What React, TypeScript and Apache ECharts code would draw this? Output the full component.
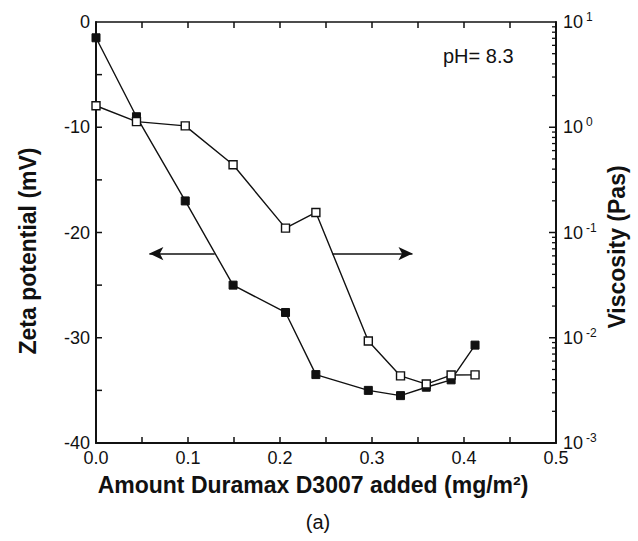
import React, { useEffect, useRef } from "react";
import * as echarts from "echarts";

// Amount of Duramax D3007 added (mg/m²)
const amounts = [0, 0.044, 0.097, 0.149, 0.206, 0.239, 0.296, 0.331, 0.359, 0.386, 0.412];
// Zeta potential (mV) — filled squares, left axis
const zeta = [-1.5, -9.0, -17.0, -25.0, -27.6, -33.5, -35.0, -35.5, -34.7, -34.0, -30.7];
// Viscosity (Pas) — open squares, right log axis
const viscosity = [1.6, 1.13, 1.03, 0.44, 0.11, 0.155, 0.0093, 0.00434, 0.00363, 0.00442, 0.00444];

const xTicks = { min: 0, max: 0.5, interval: 0.1 };
const zetaTicks = { min: -40, max: 0, interval: 10 };
const viscRange = { min: 0.001, max: 10 };

// arrow annotations (data units: [x, zeta])
const leftArrow = [[0.129, -22], [0.058, -22]];
const rightArrow = [[0.257, -22], [0.344, -22]];

const FONT = "'Liberation Sans', Arial, Helvetica, sans-serif";
const INK = "#111";

export default function App() {
  const ref = useRef<HTMLDivElement>(null);

  useEffect(() => {
    if (!ref.current) return;
    const chart = echarts.init(ref.current, undefined, { renderer: "svg" });

    // tick positions (axis decorations) derived from the axis settings
    const xTickPos: number[][] = [];
    for (let k = 1; k < 10; k++) xTickPos.push([(k * xTicks.interval) / 2]);
    const yTickPos: number[][] = [];
    for (let k = 1; k < 8; k++) yTickPos.push([zetaTicks.min + (k * zetaTicks.interval) / 2]);
    const logMajor: number[][] = [];
    for (let e = -2; e <= 0; e++) logMajor.push([Math.pow(10, e)]);
    const logMinor: number[][] = [];
    for (let e = -3; e < 1; e++) {
      for (let m = 2; m <= 9; m++) logMinor.push([m * Math.pow(10, e)]);
    }

    const tickStyle = { stroke: INK, lineWidth: 1.5 };

    const axisBase = {
      axisLine: { show: true, onZero: false, lineStyle: { color: INK, width: 2 } },
      axisTick: { show: false },
      minorTick: { show: false },
      splitLine: { show: false },
    };

    chart.setOption({
      animation: false,
      backgroundColor: "#fff",
      textStyle: { fontFamily: FONT },
      grid: { left: 96, right: 82, top: 22, bottom: 98, containLabel: false, outerBoundsMode: "none" },
      xAxis: [
        {
          type: "value",
          position: "bottom",
          ...xTicks,
          ...axisBase,
          axisLabel: { color: INK, fontSize: 18, fontFamily: FONT, margin: 6, formatter: (v: number) => v.toFixed(1) },
        },
        {
          type: "value",
          position: "top",
          ...xTicks,
          ...axisBase,
          axisLine: { show: true, onZero: false, lineStyle: { color: INK, width: 1.5 } },
          axisLabel: { show: false },
        },
      ],
      yAxis: [
        {
          type: "value",
          position: "left",
          ...zetaTicks,
          ...axisBase,
          axisLabel: { color: INK, fontSize: 18, fontFamily: FONT, margin: 6 },
        },
        {
          type: "log",
          logBase: 10,
          position: "right",
          ...viscRange,
          ...axisBase,
          axisLabel: {
            color: INK,
            margin: 7,
            formatter: (v: number) => `{b|10}{s|${Math.round(Math.log10(v))}}`,
            rich: {
              b: { fontSize: 18, fontFamily: FONT, color: INK, lineHeight: 22 },
              s: { fontSize: 12, fontFamily: FONT, color: INK, verticalAlign: "top", lineHeight: 12, padding: [0, 0, 0, 3] },
            },
          },
        },
      ],
      graphic: [
        { type: "text", x: 28, y: 251, rotation: Math.PI / 2, style: { text: "Zeta potential (mV)", font: `bold 23px ${FONT}`, fill: INK, textAlign: "center", textVerticalAlign: "middle" } },
        { type: "text", x: 617, y: 247, rotation: Math.PI / 2, style: { text: "Viscosity (Pas)", font: `bold 23px ${FONT}`, fill: INK, textAlign: "center", textVerticalAlign: "middle" } },
        { type: "text", x: 313, y: 485, style: { text: "Amount Duramax D3007 added (mg/m²)", font: `bold 23px ${FONT}`, fill: INK, textAlign: "center", textVerticalAlign: "middle" } },
        { type: "text", x: 443, y: 56, style: { text: "pH= 8.3", font: `20px ${FONT}`, fill: INK, textAlign: "left", textVerticalAlign: "middle" } },
        { type: "text", x: 318, y: 522, style: { text: "(a)", font: `20px ${FONT}`, fill: INK, textAlign: "center", textVerticalAlign: "middle" } },
      ],
      series: [
        {
          name: "Zeta potential",
          type: "line",
          xAxisIndex: 0,
          yAxisIndex: 0,
          data: amounts.map((x, i) => [x, zeta[i]]),
          symbol: "rect",
          symbolSize: 8,
          showAllSymbol: true,
          lineStyle: { color: INK, width: 1.4 },
          itemStyle: { color: INK, borderColor: INK, borderWidth: 1 },
          z: 3,
          markLine: {
            silent: true,
            symbol: ["none", "arrow"],
            symbolSize: [10, 14],
            label: { show: false },
            lineStyle: { color: INK, width: 1.5, type: "solid" },
            data: [
              [{ coord: leftArrow[0] }, { coord: leftArrow[1] }],
              [{ coord: rightArrow[0] }, { coord: rightArrow[1] }],
            ],
          },
        },
        {
          name: "Viscosity",
          type: "line",
          xAxisIndex: 0,
          yAxisIndex: 1,
          data: amounts.map((x, i) => [x, viscosity[i]]),
          symbol: "rect",
          symbolSize: 8,
          showAllSymbol: true,
          lineStyle: { color: INK, width: 1.4 },
          itemStyle: { color: "#fff", borderColor: INK, borderWidth: 1.4 },
          z: 4,
        },
        {
          name: "x ticks",
          type: "custom",
          xAxisIndex: 0,
          yAxisIndex: 0,
          silent: true,
          clip: false,
          data: xTickPos,
          renderItem: (_p: any, api: any) => {
            const b = api.coord([api.value(0), zetaTicks.min]);
            const t = api.coord([api.value(0), zetaTicks.max]);
            return {
              type: "group",
              children: [
                { type: "line", shape: { x1: b[0], y1: b[1], x2: b[0], y2: b[1] - 6 }, style: tickStyle },
                { type: "line", shape: { x1: t[0], y1: t[1], x2: t[0], y2: t[1] + 6 }, style: tickStyle },
              ],
            };
          },
        },
        {
          name: "zeta ticks",
          type: "custom",
          xAxisIndex: 0,
          yAxisIndex: 0,
          silent: true,
          clip: false,
          data: yTickPos,
          renderItem: (_p: any, api: any) => {
            const p = api.coord([xTicks.min, api.value(0)]);
            return { type: "line", shape: { x1: p[0], y1: p[1], x2: p[0] + 6, y2: p[1] }, style: tickStyle };
          },
        },
        {
          name: "log major ticks",
          type: "custom",
          xAxisIndex: 0,
          yAxisIndex: 1,
          silent: true,
          clip: false,
          data: logMajor,
          renderItem: (_p: any, api: any) => {
            const p = api.coord([xTicks.max, api.value(0)]);
            return { type: "line", shape: { x1: p[0] - 7, y1: p[1], x2: p[0], y2: p[1] }, style: tickStyle };
          },
        },
        {
          name: "log minor ticks",
          type: "custom",
          xAxisIndex: 0,
          yAxisIndex: 1,
          silent: true,
          clip: false,
          data: logMinor,
          renderItem: (_p: any, api: any) => {
            const p = api.coord([xTicks.max, api.value(0)]);
            return { type: "line", shape: { x1: p[0] - 4, y1: p[1], x2: p[0], y2: p[1] }, style: { stroke: INK, lineWidth: 1.3 } };
          },
        },
      ],
    });

    return () => chart.dispose();
  }, []);

  return <div ref={ref} style={{ position: "fixed", left: 0, top: 0, width: 638, height: 541, background: "#fff" }} />;
}
